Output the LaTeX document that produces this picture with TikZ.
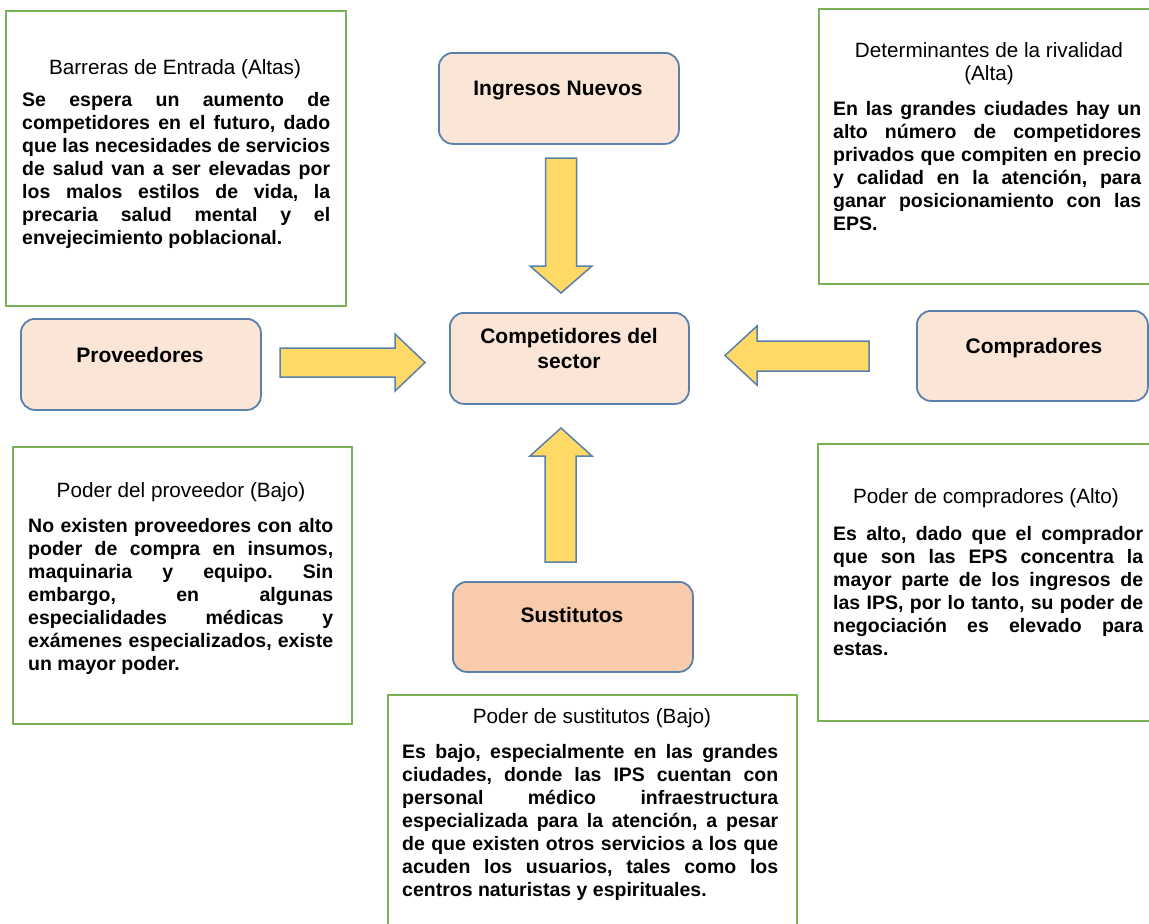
\documentclass[tikz,border=0pt]{standalone}
\usepackage{fontspec}
\setmainfont{Liberation Sans}
\frenchspacing
\definecolor{gborder}{HTML}{78B255}
\definecolor{bborder}{HTML}{5A80AC}
\definecolor{peachfill}{HTML}{FBE5D6}
\definecolor{subfill}{HTML}{F8CBAD}
\definecolor{afill}{HTML}{FFD966}
\newcommand\bodyfnt{\bfseries\fontsize{19.5}{23}\selectfont\frenchspacing\hyphenpenalty=10000\exhyphenpenalty=10000\tolerance=10000}
\tikzset{
  greenbox/.style={draw=gborder, line width=2pt, inner sep=0pt, anchor=north west},
  peachbox/.style={draw=bborder, fill=peachfill, line width=1.8pt, rounded corners=14pt, inner sep=0pt, anchor=north west},
  ttl/.style={font=\fontsize{20.7}{23}\selectfont, align=center, inner sep=0pt, anchor=base},
  bodytxt/.style={font=\bodyfnt, text width=#1, align=justify, inner sep=0pt, anchor=base west},
  lbl/.style={font=\bfseries\fontsize{21}{25}\selectfont, align=center, inner sep=0pt, anchor=base},
  barrow/.style={draw=bborder, fill=afill, line width=1.5pt, line join=miter}
}
\begin{document}
\begin{tikzpicture}[x=1pt,y=-1pt]
\clip (0,0) rectangle (1149,924);
\fill[white] (0,0) rectangle (1149,924);

% green information boxes
\node[greenbox, minimum width=340pt, minimum height=295pt] (g1) at (5,10) {};
\node[greenbox, minimum width=345pt, minimum height=275pt] (g2) at (818,8) {};
\node[greenbox, minimum width=339pt, minimum height=277pt] (g3) at (12,446) {};
\node[greenbox, minimum width=345pt, minimum height=277pt] (g4) at (817,443) {};
\node[greenbox, minimum width=409pt, minimum height=240pt] (g5) at (387,694) {};

% titles (base anchor of a two-line title is its last line)
\node[ttl] (t1) at (175,74) {Barreras de Entrada (Altas)};
\node[ttl] (t2) at (989,80) {Determinantes de la rivalidad\\(Alta)};
\node[ttl] (t3) at (181,497) {Poder del proveedor (Bajo)};
\node[ttl] (t4) at (986,503) {Poder de compradores (Alto)};
\node[ttl] (t5) at (592,723) {Poder de sustitutos (Bajo)};

% body texts
\node[bodytxt=308pt] (b1) at (22,106) {Se espera un aumento de\linebreak competidores en el futuro, dado\linebreak que las necesidades de servicios\linebreak de salud van a ser elevadas por\linebreak los malos estilos de vida, la\linebreak precaria salud mental y el\linebreak envejecimiento poblacional.};
\node[bodytxt=308pt] (b2) at (833,115) {En las grandes ciudades hay un\linebreak alto número de competidores\linebreak privados que compiten en precio\linebreak y calidad en la atención, para\linebreak ganar posicionamiento con las\linebreak EPS.};
\node[bodytxt=305pt] (b3) at (28,532) {No existen proveedores con alto\linebreak poder de compra en insumos,\linebreak maquinaria y equipo. Sin\linebreak embargo, en algunas\linebreak especialidades médicas y\linebreak exámenes especializados, existe\linebreak un mayor poder.};
\node[bodytxt=310pt] (b4) at (833,540) {Es alto, dado que el comprador\linebreak que son las EPS concentra la\linebreak mayor parte de los ingresos de\linebreak las IPS, por lo tanto, su poder de\linebreak negociación es elevado para\linebreak estas.};
\node[bodytxt=376pt] (b5) at (402,758) {Es bajo, especialmente en las grandes\linebreak ciudades, donde las IPS cuentan con\linebreak personal médico infraestructura\linebreak especializada para la atención, a pesar\linebreak de que existen otros servicios a los que\linebreak acuden los usuarios, tales como los\linebreak centros naturistas y espirituales.};

% force boxes
\node[peachbox, minimum width=240pt, minimum height=91pt] (ing) at (438,52) {};
\node[peachbox, minimum width=239pt, minimum height=91pt] (comp) at (449,312) {};
\node[peachbox, minimum width=240pt, minimum height=91pt] (prov) at (20,318) {};
\node[peachbox, minimum width=231pt, minimum height=90pt] (compr) at (916,310) {};
\node[peachbox, fill=subfill, minimum width=240pt, minimum height=90pt] (sust) at (452,581) {};

\node[lbl] (ingl) at (558,95) {Ingresos Nuevos};
\node[lbl] (compl) at (569,368) {Competidores del\\sector};
\node[lbl] (provl) at (140,362) {Proveedores};
\node[lbl] (comprl) at (1034,353) {Compradores};
\node[lbl] (sustl) at (572,622) {Sustitutos};

% block arrows
\path[barrow] (545.5,158) -- (576.5,158) -- (576.5,266) -- (592,266) -- (561,293) -- (530,266) -- (545.5,266) -- cycle;
\path[barrow] (545,562) -- (576,562) -- (576,456) -- (592,456) -- (561,428) -- (530,456) -- (545,456) -- cycle;
\path[barrow] (280,348) -- (395,348) -- (395,334) -- (425,362.5) -- (395,391) -- (395,377) -- (280,377) -- cycle;
\path[barrow] (869,341) -- (757,341) -- (757,326) -- (725,355.5) -- (757,385) -- (757,371) -- (869,371) -- cycle;
\end{tikzpicture}
\end{document}
